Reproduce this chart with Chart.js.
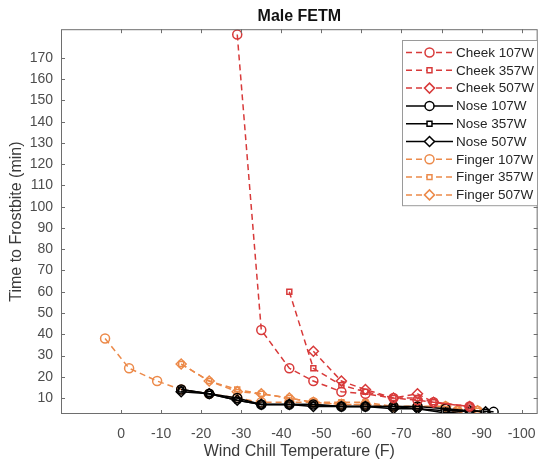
<!DOCTYPE html>
<html>
<head>
  <meta charset="UTF-8" />
  <title>Male FETM</title>
  <script src="https://cdn.jsdelivr.net/npm/chart.js"></script>
  <style>
    body { margin: 0; background: #fff; }
    canvas { display: block; }
  </style>
</head>
<body>
  <canvas id="fetmChart" width="548" height="464"></canvas>

  <script>
    // tick labels
    const xTicks = [0, -10, -20, -30, -40, -50, -60, -70, -80, -90, -100];
    const yTicks = [10, 20, 30, 40, 50, 60, 70, 80, 90, 100, 110, 120, 130, 140, 150, 160, 170];

    // wind chill (F) and time to frostbite (min)
    const cheek107X = [-29, -35, -42, -48, -55, -61, -68, -74, -78, -87];
    const cheek107Y = [181, 42, 24, 18, 13, 12, 10, 9, 8, 6];
    const cheek357X = [-42, -48, -55, -61, -68, -74, -78, -87];
    const cheek357Y = [60, 24, 16, 13, 10, 10, 8, 6];
    const cheek507X = [-48, -55, -61, -68, -74, -78, -87];
    const cheek507Y = [32, 18, 14, 10, 12, 8, 6];

    const nose107X = [-15, -22, -29, -35, -42, -48, -55, -61, -68, -74, -81, -87, -93];
    const nose107Y = [14, 12, 10, 7, 7, 7, 6, 6, 6, 6, 5, 4, 3.5];
    const nose357X = [-15, -22, -29, -35, -42, -48, -55, -61, -68, -74, -81, -87, -91];
    const nose357Y = [14, 12, 9, 7, 7, 7, 6, 6, 6, 5, 4, 4, 3.5];
    const nose507X = [-15, -22, -29, -35, -42, -48, -55, -61, -68, -74, -81, -87, -91];
    const nose507Y = [13, 12, 9, 7, 7, 6, 6, 6, 5, 5, 3, 4, 3.5];

    const finger107X = [4, -2, -9, -15, -22, -29, -35, -42, -48, -55, -61, -68, -74, -81, -84, -89];
    const finger107Y = [38, 24, 18, 14, 12, 10, 8, 8, 8, 7, 7, 6, 6, 6, 4, 4];
    const finger357X = [-15, -22, -29, -35, -42, -48, -55, -61, -68, -74, -81, -84, -89];
    const finger357Y = [26, 18, 14, 12, 10, 8, 8, 8, 6, 6, 6, 4, 4];
    const finger507X = [-15, -22, -29, -35, -42, -48, -55, -61, -68, -74, -81, -84, -89];
    const finger507Y = [26, 18, 13, 12, 10, 8, 7, 7, 6, 6, 6, 4, 4];

    const RED = '#d83a3a';
    const BLACK = '#000000';
    const ORANGE = '#ec8a4a';
    const FONT = "'Liberation Sans', Arial, sans-serif";

    function series(label, xs, ys, color, dashed, style, radius) {
      return {
        label: label,
        data: xs.map((x, i) => ({ x: x, y: ys[i] })),
        borderColor: color,
        backgroundColor: 'rgba(0,0,0,0)',
        borderWidth: 1.5,
        borderDash: dashed ? [6, 4] : [],
        pointStyle: style,
        pointRadius: radius,
        pointBorderWidth: 1.5,
        pointBorderColor: color,
        pointBackgroundColor: 'rgba(0,0,0,0)',
        fill: false,
        tension: 0,
      };
    }

    const datasets = [
      series('Cheek 107W', cheek107X, cheek107Y, RED, true, 'circle', 4.5),
      series('Cheek 357W', cheek357X, cheek357Y, RED, true, 'rect', 3.5),
      series('Cheek 507W', cheek507X, cheek507Y, RED, true, 'rectRot', 5),
      series('Nose 107W', nose107X, nose107Y, BLACK, false, 'circle', 4.5),
      series('Nose 357W', nose357X, nose357Y, BLACK, false, 'rect', 3.5),
      series('Nose 507W', nose507X, nose507Y, BLACK, false, 'rectRot', 5),
      series('Finger 107W', finger107X, finger107Y, ORANGE, true, 'circle', 4.5),
      series('Finger 357W', finger357X, finger357Y, ORANGE, true, 'rect', 3.5),
      series('Finger 507W', finger507X, finger507Y, ORANGE, true, 'rectRot', 5),
    ];

    // box around the axes with inward ticks, like the original figure
    const boxPlugin = {
      id: 'box',
      afterDatasetsDraw(chart) {
        const { ctx, chartArea: a, scales } = chart;
        ctx.save();
        ctx.strokeStyle = '#6e6e6e';
        ctx.lineWidth = 1;
        ctx.strokeRect(a.left + 0.5, a.top + 0.5, a.right - a.left - 1, a.bottom - a.top - 1);
        ctx.beginPath();
        xTicks.forEach(v => {
          const px = Math.round(scales.x.getPixelForValue(v)) + 0.5;
          ctx.moveTo(px, a.bottom); ctx.lineTo(px, a.bottom - 4);
          ctx.moveTo(px, a.top); ctx.lineTo(px, a.top + 4);
        });
        yTicks.forEach(v => {
          const py = Math.round(scales.y.getPixelForValue(v)) + 0.5;
          ctx.moveTo(a.left, py); ctx.lineTo(a.left + 4, py);
          ctx.moveTo(a.right, py); ctx.lineTo(a.right - 4, py);
        });
        ctx.stroke();
        ctx.restore();
      }
    };

    // legend with line + marker samples
    const legendPlugin = {
      id: 'lineLegend',
      afterDraw(chart) {
        const ctx = chart.ctx;
        const left = 402, top = 40, width = 135, rowH = 17.8;
        const height = rowH * datasets.length + 5;
        ctx.save();
        ctx.fillStyle = '#ffffff';
        ctx.fillRect(left, top, width, height);
        ctx.strokeStyle = '#9a9a9a';
        ctx.lineWidth = 1;
        ctx.strokeRect(left + 0.5, top + 0.5, width, height);
        chart.data.datasets.forEach((ds, i) => {
          const cy = top + 12.5 + i * rowH;
          ctx.strokeStyle = ds.borderColor;
          ctx.lineWidth = ds.borderWidth;
          ctx.setLineDash(ds.borderDash);
          ctx.beginPath();
          ctx.moveTo(left + 4, cy);
          ctx.lineTo(left + 51, cy);
          ctx.stroke();
          ctx.setLineDash([]);
          ctx.fillStyle = '#ffffff';
          ctx.strokeStyle = ds.borderColor;
          Chart.helpers.drawPoint(ctx, {
            pointStyle: ds.pointStyle,
            radius: ds.pointRadius,
            borderWidth: ds.pointBorderWidth,
            rotation: 0
          }, left + 27.5, cy);
          ctx.fillStyle = '#262626';
          ctx.font = '13.5px ' + FONT;
          ctx.textBaseline = 'middle';
          ctx.textAlign = 'left';
          ctx.fillText(ds.label, left + 54, cy + 0.5);
        });
        ctx.restore();
      }
    };

    const ctx = document.getElementById('fetmChart').getContext('2d');
    new Chart(ctx, {
      type: 'line',
      data: { datasets: datasets },
      plugins: [boxPlugin, legendPlugin],
      options: {
        responsive: false,
        animation: false,
        layout: { padding: { left: 0, right: 2, top: 0, bottom: 0 } },
        plugins: {
          legend: { display: false },
          tooltip: { enabled: false },
          title: {
            display: true,
            text: 'Male FETM',
            fullSize: false,
            color: '#111111',
            font: { family: FONT, size: 16, weight: 'bold' },
            padding: { top: 7, bottom: 3 }
          }
        },
        scales: {
          x: {
            type: 'linear',
            reverse: true,
            min: -104,
            max: 15,
            grid: { display: false, drawTicks: false },
            border: { display: false },
            afterBuildTicks: (scale) => { scale.ticks = xTicks.map(v => ({ value: v })); },
            afterFit: (scale) => { scale.height = 50; },
            ticks: {
              color: '#4d4d4d',
              font: { family: FONT, size: 14 },
              padding: 12,
              maxRotation: 0,
              autoSkip: false
            },
            title: {
              display: true,
              text: 'Wind Chill Temperature (F)',
              color: '#3a3a3a',
              font: { family: FONT, size: 16 },
              padding: { top: 0, bottom: 3 }
            }
          },
          y: {
            type: 'linear',
            min: 2.5,
            max: 183.5,
            grid: { display: false, drawTicks: false },
            border: { display: false },
            afterBuildTicks: (scale) => { scale.ticks = yTicks.map(v => ({ value: v })); },
            afterFit: (scale) => { scale.width = 61; },
            ticks: {
              color: '#4d4d4d',
              font: { family: FONT, size: 14 },
              padding: 8,
              autoSkip: false
            },
            title: {
              display: true,
              text: 'Time to Frostbite (min)',
              color: '#3a3a3a',
              font: { family: FONT, size: 16 },
              padding: { top: 7, bottom: 0 }
            }
          }
        }
      }
    });
  </script>
</body>
</html>
